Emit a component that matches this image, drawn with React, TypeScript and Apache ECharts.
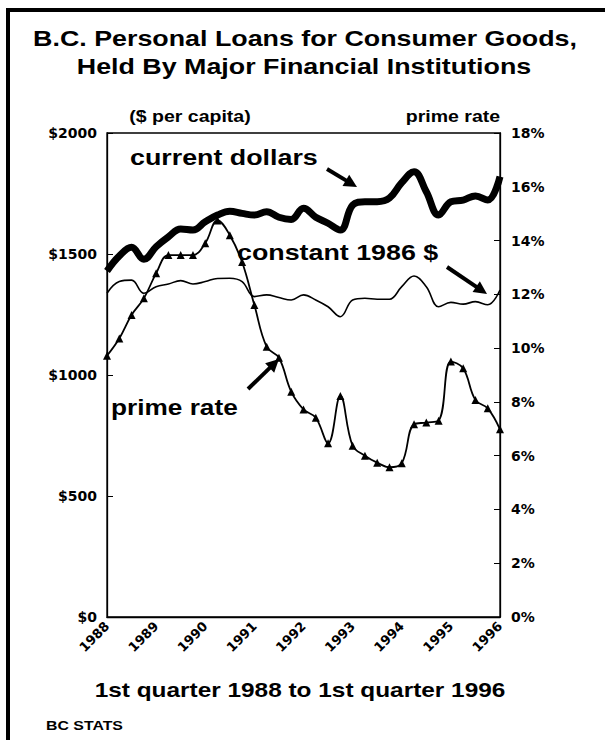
import React, { useEffect, useRef } from "react";
import * as echarts from "echarts";

const quarters = [
  "1988 Q1", "1988 Q2", "1988 Q3", "1988 Q4",
  "1989 Q1", "1989 Q2", "1989 Q3", "1989 Q4",
  "1990 Q1", "1990 Q2", "1990 Q3", "1990 Q4",
  "1991 Q1", "1991 Q2", "1991 Q3", "1991 Q4",
  "1992 Q1", "1992 Q2", "1992 Q3", "1992 Q4",
  "1993 Q1", "1993 Q2", "1993 Q3", "1993 Q4",
  "1994 Q1", "1994 Q2", "1994 Q3", "1994 Q4",
  "1995 Q1", "1995 Q2", "1995 Q3", "1995 Q4",
  "1996 Q1",
];

const currentDollars = [
  1430, 1492, 1528, 1478, 1530, 1571, 1603, 1599,
  1633, 1661, 1677, 1668, 1661, 1675, 1652, 1643,
  1689, 1652, 1627, 1599, 1702, 1716, 1716, 1731,
  1795, 1840, 1757, 1661, 1716, 1723, 1740, 1723,
  1820,
];

const constant1986 = [
  1338, 1386, 1392, 1338, 1365, 1376, 1390, 1376,
  1386, 1399, 1400, 1386, 1324, 1331, 1320, 1310,
  1331, 1310, 1282, 1241, 1310, 1317, 1313, 1313,
  1365, 1409, 1365, 1282, 1300, 1293, 1303, 1290,
  1351,
];

const primeRate = [
  9.72, 10.36, 11.23, 11.85, 12.78, 13.46, 13.46, 13.46,
  13.9, 14.75, 14.2, 13.2, 11.6, 10.05, 9.64, 8.38,
  7.72, 7.41, 6.46, 8.22, 6.37, 6.0, 5.74, 5.57,
  5.72, 7.17, 7.23, 7.3, 9.5, 9.25, 8.07, 7.76,
  6.98,
];

const FONT = "'Liberation Sans', Arial, sans-serif";
const AXFONT = "'DejaVu Sans', sans-serif";
const SX = 1.22;

function txt(text: string, x: number, y: number, size: number, align: string = "center") {
  return {
    type: "text",
    x,
    y,
    scaleX: SX,
    style: {
      text,
      x: 0,
      y: 0,
      fill: "#000",
      font: `bold ${size}px ${FONT}`,
      textAlign: align,
      textVerticalAlign: "middle",
    },
  };
}

function arrow(x1: number, y1: number, x2: number, y2: number) {
  const dx = x2 - x1;
  const dy = y2 - y1;
  const len = Math.sqrt(dx * dx + dy * dy);
  const ux = dx / len;
  const uy = dy / len;
  const hl = 13;
  const hw = 6.5;
  const bx = x2 - ux * hl;
  const by = y2 - uy * hl;
  return [
    {
      type: "line",
      shape: { x1, y1, x2: bx + ux * 2, y2: by + uy * 2 },
      style: { stroke: "#000", lineWidth: 4 },
    },
    {
      type: "polygon",
      shape: {
        points: [
          [x2, y2],
          [bx - uy * hw, by + ux * hw],
          [bx + uy * hw, by - ux * hw],
        ],
      },
      style: { fill: "#000" },
    },
  ];
}

export default function App() {
  const ref = useRef<HTMLDivElement>(null);
  useEffect(() => {
    document.body.style.margin = "0";
    const chart = echarts.init(ref.current!, null, { renderer: "svg" });
    chart.setOption({
      animation: false,
      backgroundColor: "#fff",
      grid: {
        left: 107,
        right: 105,
        top: 133,
        bottom: 123,
        show: true,
        borderColor: "#000",
        borderWidth: 1.3,
        backgroundColor: "transparent",
      },
      xAxis: {
        type: "category",
        data: quarters,
        boundaryGap: false,
        axisLine: { show: true, lineStyle: { color: "#000", width: 1.3 } },
        axisTick: { show: false },
        splitLine: { show: false },
        axisLabel: {
          interval: 3,
          rotate: 45,
          margin: 7,
          color: "#000",
          fontFamily: AXFONT,
          fontWeight: "bold",
          fontSize: 13,
          formatter: (v: string) => v.slice(0, 4),
        },
      },
      yAxis: [
        {
          type: "value",
          min: 0,
          max: 2000,
          interval: 500,
          axisLine: { show: true, lineStyle: { color: "#000", width: 1.3 } },
          axisTick: { show: true, inside: true, length: 6, lineStyle: { color: "#000" } },
          splitLine: { show: false },
          axisLabel: {
            color: "#000",
            fontFamily: AXFONT,
            fontWeight: "bold",
            fontSize: 14,
            margin: 10,
            formatter: (v: number) => "$" + v,
          },
        },
        {
          type: "value",
          min: 0,
          max: 18,
          interval: 2,
          position: "right",
          axisLine: { show: true, lineStyle: { color: "#000", width: 1.3 } },
          axisTick: { show: true, inside: true, length: 6, lineStyle: { color: "#000" } },
          splitLine: { show: false },
          axisLabel: {
            color: "#000",
            fontFamily: AXFONT,
            fontWeight: "bold",
            fontSize: 14,
            margin: 11,
            formatter: (v: number) => v + "%",
          },
        },
      ],
      series: [
        {
          name: "current dollars",
          type: "line",
          data: currentDollars,
          yAxisIndex: 0,
          smooth: 0.4,
          showSymbol: false,
          symbol: "none",
          lineStyle: { color: "#000", width: 7 },
          z: 3,
        },
        {
          name: "constant 1986 $",
          type: "line",
          data: constant1986,
          yAxisIndex: 0,
          smooth: 0.4,
          showSymbol: false,
          symbol: "none",
          lineStyle: { color: "#000", width: 1.6 },
          z: 2,
        },
        {
          name: "prime rate",
          type: "line",
          data: primeRate,
          yAxisIndex: 1,
          smooth: 0.4,
          symbol: "triangle",
          symbolSize: 8,
          showSymbol: true,
          showAllSymbol: true,
          itemStyle: { color: "#000" },
          lineStyle: { color: "#000", width: 1.8 },
          z: 2,
        },
      ],
      graphic: [
        { type: "rect", shape: { x: 6, y: 8, width: 599, height: 4 }, style: { fill: "#000" } },
        { type: "rect", shape: { x: 6, y: 8, width: 4, height: 732 }, style: { fill: "#000" } },
        txt("B.C. Personal Loans for Consumer Goods,", 305, 38, 22),
        txt("Held By Major Financial Institutions", 304, 66, 22),
        txt("($ per capita)", 190, 117, 16),
        txt("prime rate", 453, 117, 16),
        txt("current dollars", 130, 157, 22, "left"),
        txt("constant 1986 $", 237, 252, 22, "left"),
        txt("prime rate", 111, 407, 21.5, "left"),
        txt("1st quarter 1988 to 1st quarter 1996", 300, 690, 20),
        txt("BC STATS", 46, 726, 13, "left"),
        ...arrow(327, 169, 357, 187),
        ...arrow(447, 267, 487, 294),
        ...arrow(248, 389, 279, 359),
      ],
    });
    return () => chart.dispose();
  }, []);
  return <div ref={ref} style={{ width: 605, height: 740 }} />;
}
